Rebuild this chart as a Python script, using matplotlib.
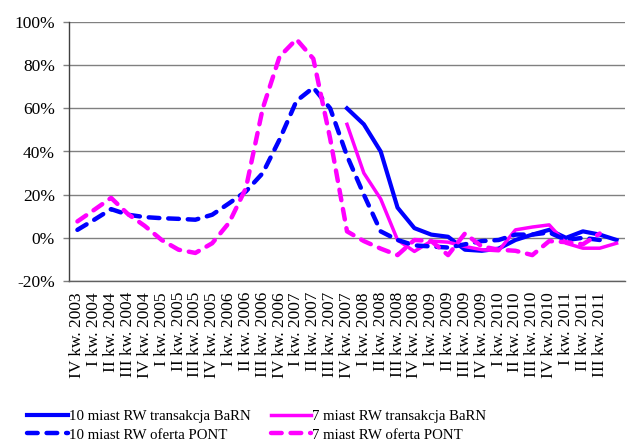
import numpy as np
import matplotlib
matplotlib.use("Agg")
import matplotlib.pyplot as plt

plt.rcParams['font.family'] = ['Liberation Serif', 'DejaVu Serif']

# Categories (quarters); the last quarter has no printed label in the original
quarters = ["IV kw. 2003",
            "I kw. 2004", "II kw. 2004", "III kw. 2004", "IV kw. 2004",
            "I kw. 2005", "II kw. 2005", "III kw. 2005", "IV kw. 2005",
            "I kw. 2006", "II kw. 2006", "III kw. 2006", "IV kw. 2006",
            "I kw. 2007", "II kw. 2007", "III kw. 2007", "IV kw. 2007",
            "I kw. 2008", "II kw. 2008", "III kw. 2008", "IV kw. 2008",
            "I kw. 2009", "II kw. 2009", "III kw. 2009", "IV kw. 2009",
            "I kw. 2010", "II kw. 2010", "III kw. 2010", "IV kw. 2010",
            "I kw. 2011", "II kw. 2011", "III kw. 2011", "IV kw. 2011"]
shown_labels = quarters[:32]

N = None
blue_barn = [N]*16 + [60, 52.6, 40, 14, 4.5, 1.5, 0.5, -5.5, -6, -5, -1, 1.5, 3.7, 0, 3, 1.5, -1]
pink_barn = [N]*16 + [52.6, 30, 18, -1, -6.3, -1.5, -2, -4, -5.5, -6, 3.7, 5, 6, -2.5, -4.8, -4.8, -2.5]
blue_pont = [3.7, 8.4, 13.3, 10.7, 9.6, 9.1, 8.8, 8.4, 10.7, 16, 21.5, 30, 45.6, 63.4, 69.6,
             60, 38, 20, 3, -1, -3.5, -4, -4.5, -3, -1.5, -1, 1.5, 1.5, 2.5, -1, 0, -1, N]
pink_pont = [7.6, 13, 18.5, 11, 5.5, -1, -5.5, -7, -2.5, 7, 23, 60, 84, 92, 83,
             46, 3, -1.5, -5, -8, -1, -1.5, -8, 2, -4, -5.5, -6, -8, -1.5, -2, -3, 2, N]

labels = ["10 miast RW transakcja BaRN", "10 miast RW oferta PONT",
          "7 miast RW transakcja BaRN", "7 miast RW oferta PONT"]

BLUE = "#0000FF"
MAG = "#FF00FF"

def arr(v):
    return np.array([np.nan if a is None else a for a in v], dtype=float)

x = np.arange(len(quarters))

fig = plt.figure(figsize=(6.28, 4.48), dpi=100)
ax = fig.add_axes([69/628, 1-281/448, (625-69)/628, (281-22)/448])

l1, = ax.plot(x, arr(blue_barn), color=BLUE, lw=3.0, solid_joinstyle='round', zorder=3)
l3, = ax.plot(x, arr(pink_barn), color=MAG, lw=2.5, solid_joinstyle='round', zorder=3)
l2, = ax.plot(x, arr(blue_pont), color=BLUE, lw=3.2, dashes=(2.4, 2.0),
              dash_capstyle='round', zorder=4)
l4, = ax.plot(x, arr(pink_pont), color=MAG, lw=3.2, dashes=(2.4, 2.0),
              dash_capstyle='round', zorder=4)

ax.set_xlim(-0.5, len(quarters)-0.5)
ax.set_ylim(-20, 100)
yt = np.arange(-20, 101, 20)
ax.set_yticks(yt)
ax.set_yticklabels([f"{v}%" for v in yt], fontsize=12.5)
ax.set_xticks(np.arange(len(shown_labels)))
ax.set_xticklabels(shown_labels, rotation=90, fontsize=12.5)
ax.tick_params(axis='x', length=0, pad=8)
ax.tick_params(axis='y', length=4, width=1, color='#808080', pad=6)

ax.grid(axis='y', color='#808080', lw=1.0)
ax.set_axisbelow(True)
for s in ['top', 'right']:
    ax.spines[s].set_visible(False)
ax.spines['left'].set_color('#404040')
ax.spines['bottom'].set_color('#606060')
ax.spines['left'].set_linewidth(1.0)
ax.spines['bottom'].set_linewidth(1.0)

fig.legend([l1, l2, l3, l4], labels, ncol=2, loc='lower left',
           bbox_to_anchor=(21/628, 0.0), frameon=False, fontsize=10.7,
           handlelength=2.7, handletextpad=0.1, columnspacing=1.35,
           labelspacing=0.32, borderaxespad=0.03)

fig.savefig("out.png", dpi=100)
